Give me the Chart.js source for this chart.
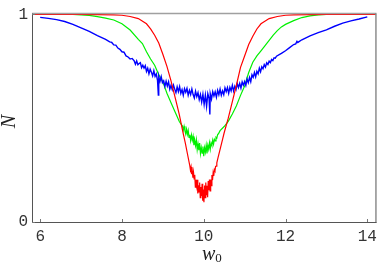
<!DOCTYPE html>
<html>
<head>
<meta charset="utf-8">
<script src="https://cdn.jsdelivr.net/npm/chart.js@4.4.1/dist/chart.umd.min.js"></script>
<style>
  html, body { margin: 0; padding: 0; background: #fff; }
  #c { display: block; }
</style>
</head>
<body>
<canvas id="c" width="382" height="264"></canvas>
<script>
const xTicks = [6, 8, 10, 12, 14];
const yTicks = [0, 1];
const xTitle = 'w';
const xTitleSub = '0';
const yTitle = 'N';

const redW = [5.8, 7.0, 7.8, 8.0, 8.2, 8.4, 8.6, 8.7, 8.8, 8.9, 9.0, 9.1, 9.2, 9.3, 9.4, 9.5, 9.55, 9.6,
  9.660, 9.675, 9.690, 9.705, 9.720, 9.735, 9.750, 9.765, 9.780, 9.795, 9.810, 9.825, 9.840, 9.855, 9.870,
  9.885, 9.900, 9.915, 9.930, 9.945, 9.960, 9.975, 9.990, 10.005, 10.020, 10.035, 10.050, 10.065, 10.080,
  10.095, 10.110, 10.125, 10.140, 10.155, 10.170, 10.185, 10.200, 10.215, 10.230, 10.245, 10.260, 10.275,
  10.290, 10.305, 10.320,
  10.35, 10.4, 10.45, 10.5, 10.6, 10.7, 10.8, 10.9, 11.0, 11.1, 11.2, 11.3, 11.4, 11.6, 11.8, 12.0, 12.2, 13.0, 14.2];
const redN = [1.0, 1.0, 0.998, 0.996, 0.99, 0.98, 0.955, 0.93, 0.9, 0.862, 0.808, 0.75, 0.68, 0.60, 0.52, 0.425, 0.38, 0.33,
  0.270, 0.250, 0.265, 0.230, 0.246, 0.213, 0.240, 0.208, 0.227, 0.168, 0.203, 0.175, 0.204, 0.138, 0.177,
  0.145, 0.190, 0.117, 0.169, 0.126, 0.184, 0.102, 0.156, 0.095, 0.176, 0.117, 0.190, 0.132, 0.175,
  0.119, 0.198, 0.153, 0.205, 0.150, 0.205, 0.175, 0.227, 0.201, 0.237, 0.222, 0.252, 0.246,
  0.268, 0.269, 0.285,
  0.31, 0.35, 0.39, 0.43, 0.50, 0.58, 0.66, 0.745, 0.80, 0.855, 0.895, 0.93, 0.955, 0.98, 0.99, 0.996, 0.998, 1.0, 1.0];

const greenW = [5.8, 6.8, 7.0, 7.2, 7.4, 7.6, 7.8, 8.0, 8.2, 8.4, 8.5, 8.6, 8.7, 8.8, 8.9, 9.0, 9.1, 9.2, 9.3, 9.4, 9.45,
  9.48, 9.50, 9.52, 9.54, 9.56, 9.58, 9.60, 9.62, 9.64, 9.66, 9.68, 9.70, 9.72, 9.74, 9.76, 9.78, 9.80, 9.82, 9.84,
  9.86, 9.88, 9.90, 9.92, 9.94, 9.96, 9.98, 10.00, 10.02, 10.04, 10.06, 10.08, 10.10, 10.12, 10.14, 10.16, 10.18,
  10.20, 10.22, 10.24, 10.26, 10.28, 10.30, 10.32, 10.34, 10.36,
  10.4, 10.5, 10.6, 10.7, 10.8, 10.9, 11.0, 11.1, 11.2, 11.3, 11.4, 11.5, 11.6, 11.7, 11.8, 11.9, 12.0, 12.2, 12.4, 12.6, 12.8, 13.0, 14.2];
const greenN = [1.0, 1.0, 0.998, 0.995, 0.989, 0.982, 0.973, 0.955, 0.925, 0.88, 0.86, 0.82, 0.785, 0.755, 0.71, 0.675, 0.62, 0.575, 0.53, 0.485, 0.47,
  0.462, 0.443, 0.461, 0.440, 0.424, 0.447, 0.422, 0.441, 0.408, 0.420, 0.392, 0.419, 0.394, 0.413, 0.370, 0.393, 0.368, 0.396, 0.349,
  0.377, 0.346, 0.380, 0.330, 0.358, 0.332, 0.364, 0.317, 0.358, 0.337, 0.369, 0.330, 0.369, 0.351, 0.381, 0.351, 0.381,
  0.369, 0.394, 0.375, 0.398, 0.391, 0.408, 0.404, 0.421, 0.425,
  0.44, 0.46, 0.485, 0.52, 0.56, 0.61, 0.655, 0.72, 0.77, 0.80, 0.825, 0.85, 0.875, 0.9, 0.922, 0.94, 0.952, 0.97, 0.985, 0.993, 0.998, 1.0, 1.0];

const blueW = [6.0, 6.2, 6.4, 6.6, 6.8, 7.0, 7.2, 7.4, 7.6, 7.7, 7.75, 7.8, 7.85, 7.9, 7.95, 8.0, 8.05, 8.1, 8.15, 8.2, 8.25,
  8.30, 8.33, 8.36, 8.39, 8.42, 8.45, 8.48, 8.51, 8.54, 8.57, 8.60, 8.63, 8.66, 8.69, 8.72, 8.75, 8.78, 8.81, 8.84, 8.87,
  8.89, 8.90, 8.93, 8.96, 8.99, 9.02, 9.05, 9.08, 9.11, 9.14, 9.17, 9.20, 9.23, 9.26, 9.29, 9.32, 9.35, 9.38, 9.41, 9.44,
  9.47, 9.50, 9.53, 9.56, 9.59, 9.62, 9.65, 9.68, 9.71, 9.74, 9.77, 9.80, 9.83, 9.86, 9.89, 9.92, 9.95, 9.98, 10.01,
  10.04, 10.07, 10.10, 10.13, 10.15, 10.16, 10.19, 10.22, 10.25, 10.28, 10.31, 10.34, 10.37, 10.40, 10.43, 10.46, 10.49,
  10.52, 10.55, 10.58, 10.61, 10.64, 10.67, 10.70, 10.73, 10.76, 10.79, 10.82, 10.85, 10.88, 10.91, 10.94, 10.97, 11.00,
  11.03, 11.06, 11.09, 11.12, 11.15, 11.18, 11.21, 11.24, 11.27, 11.30, 11.33, 11.36, 11.39, 11.42, 11.45, 11.48, 11.51,
  11.54, 11.57, 11.60, 11.63, 11.66, 11.69, 11.72, 11.75, 11.78,
  11.9, 12.0, 12.1, 12.2, 12.25, 12.28, 12.3, 12.4, 12.6, 12.8, 13.0, 13.2, 13.4, 13.6, 13.8, 14.0];
const blueN = [0.986, 0.981, 0.975, 0.966, 0.952, 0.935, 0.918, 0.898, 0.88, 0.868, 0.865, 0.853, 0.852, 0.838, 0.832, 0.82, 0.818, 0.80, 0.795, 0.785, 0.788,
  0.776, 0.760, 0.776, 0.758, 0.764, 0.768, 0.743, 0.755, 0.741, 0.753, 0.725, 0.741, 0.714, 0.736, 0.722, 0.704, 0.729, 0.701, 0.713, 0.682,
  0.612, 0.701, 0.677, 0.700, 0.671, 0.680, 0.653, 0.678, 0.655, 0.675, 0.640, 0.659, 0.638, 0.660, 0.640, 0.623, 0.651, 0.628, 0.652, 0.620,
  0.638, 0.611, 0.642, 0.625, 0.644, 0.611, 0.634, 0.614, 0.641, 0.614, 0.597, 0.630, 0.604, 0.623, 0.590, 0.614, 0.578, 0.615, 0.566,
  0.611, 0.558, 0.618, 0.596, 0.518, 0.618, 0.592, 0.628, 0.607, 0.627, 0.601, 0.634, 0.613, 0.640, 0.611, 0.632, 0.614,
  0.646, 0.628, 0.648, 0.620, 0.649, 0.632, 0.659, 0.631, 0.654, 0.638, 0.667, 0.648, 0.668, 0.645, 0.675, 0.659, 0.677,
  0.658, 0.689, 0.671, 0.696, 0.676, 0.709, 0.697, 0.720, 0.699, 0.726, 0.714, 0.741, 0.724, 0.748, 0.738, 0.758, 0.746,
  0.767, 0.759, 0.775, 0.768, 0.783, 0.778, 0.791, 0.789, 0.799,
  0.812, 0.825, 0.84, 0.855, 0.858, 0.87, 0.865, 0.878, 0.897, 0.912, 0.926, 0.943, 0.958, 0.969, 0.978, 0.988];

function pts(ws, ns) { return ws.map((w, i) => ({ x: w, y: ns[i] })); }

const framePlugin = {
  id: 'frame',
  afterDraw(chart) {
    const { ctx, chartArea: { left, right, top, bottom }, scales: { x, y } } = chart;
    ctx.save();
    ctx.strokeStyle = '#a0a0a0';
    ctx.lineWidth = 1.5;
    ctx.beginPath(); ctx.moveTo(left, top); ctx.lineTo(right + 1, top); ctx.stroke();
    ctx.strokeStyle = '#555';
    ctx.lineWidth = 1;
    ctx.beginPath();
    ctx.moveTo(left + 0.5, top); ctx.lineTo(left + 0.5, bottom + 1);
    ctx.moveTo(left, bottom + 0.5); ctx.lineTo(right + 1, bottom + 0.5);
    ctx.moveTo(right + 0.5, top); ctx.lineTo(right + 0.5, bottom + 1);
    ctx.stroke();
    ctx.strokeStyle = '#777';
    ctx.beginPath();
    x.ticks.forEach(t => {
      const px = Math.round(x.getPixelForValue(t.value)) + 0.5;
      ctx.moveTo(px, bottom); ctx.lineTo(px, bottom - 3);
    });
    y.ticks.forEach(t => {
      const py = Math.round(y.getPixelForValue(t.value)) + 0.5;
      ctx.moveTo(left, py); ctx.lineTo(left + 3, py);
    });
    ctx.stroke();
    ctx.fillStyle = '#222';
    ctx.textBaseline = 'alphabetic';
    ctx.font = 'italic 20px "Liberation Serif"';
    ctx.textAlign = 'left';
    ctx.fillText(xTitle, 202, 260);
    const ww = ctx.measureText(xTitle).width;
    ctx.font = '13px "Liberation Serif"';
    ctx.fillText(xTitleSub, 202 + ww, 262);
    ctx.save();
    ctx.translate(15, 121.5);
    ctx.rotate(-Math.PI / 2);
    ctx.font = 'italic 20px "Liberation Serif"';
    ctx.textAlign = 'center';
    ctx.fillText(yTitle, 0, 0);
    ctx.restore();
    ctx.restore();
  }
};

new Chart(document.getElementById('c'), {
  type: 'line',
  data: {
    datasets: [
      { label: 'red', data: pts(redW, redN), borderColor: '#ff0000', borderWidth: 1.2, pointRadius: 0, tension: 0, fill: false },
      { label: 'blue', data: pts(blueW, blueN), borderColor: '#0000ff', borderWidth: 1.4, pointRadius: 0, tension: 0, fill: false },
      { label: 'green', data: pts(greenW, greenN), borderColor: '#00f000', borderWidth: 1.2, pointRadius: 0, tension: 0, fill: false }
    ]
  },
  options: {
    responsive: false,
    animation: false,
    devicePixelRatio: 1,
    layout: { padding: { top: 9, right: 5, left: 0, bottom: 0 } },
    plugins: { legend: { display: false }, tooltip: { enabled: false } },
    scales: {
      x: {
        type: 'linear',
        min: 5.8, max: 14.2,
        afterBuildTicks: s => { s.ticks = xTicks.map(v => ({ value: v })); },
        afterFit: s => { s.height = 42; },
        grid: { display: false, drawTicks: false },
        border: { display: false },
        ticks: { color: '#333', font: { family: 'Liberation Mono', size: 16 }, padding: 5, maxRotation: 0 }
      },
      y: {
        type: 'linear',
        min: 0, max: 1.004,
        afterBuildTicks: s => { s.ticks = yTicks.map(v => ({ value: v })); },
        afterFit: s => { s.width = 32; },
        grid: { display: false, drawTicks: false },
        border: { display: false },
        ticks: { color: '#333', font: { family: 'Liberation Mono', size: 16 }, padding: 4 }
      }
    }
  },
  plugins: [framePlugin]
});
</script>
</body>
</html>
